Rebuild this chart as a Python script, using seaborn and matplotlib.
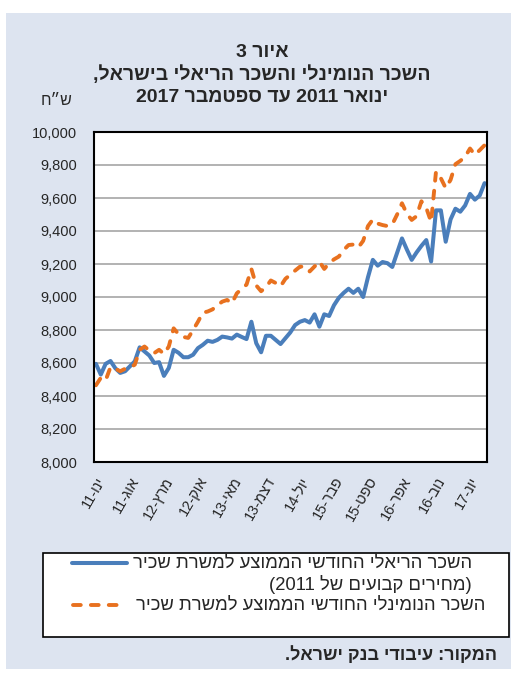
import re

import pandas as pd
import seaborn as sns
import matplotlib.pyplot as plt
from matplotlib.lines import Line2D
from matplotlib.patches import Rectangle

# monthly average wage per employee post, NIS, Jan 2011 - Sep 2017
REAL_WAGE = [
    8595, 8530, 8595, 8612, 8568, 8540, 8550, 8580, 8610, 8695,
    8670, 8645, 8600, 8605, 8522, 8570, 8680, 8662, 8635, 8635,
    8650, 8690, 8710, 8735, 8728, 8740, 8760, 8755, 8748, 8772,
    8758, 8745, 8850, 8720, 8665, 8765, 8765, 8740, 8715, 8750,
    8785, 8830, 8850, 8860, 8845, 8895, 8820, 8895, 8885, 8950,
    8995, 9025, 9050, 9025, 9050, 9000, 9120, 9225, 9190, 9212,
    9205, 9182, 9268, 9355, 9288, 9225, 9270, 9310, 9345, 9215,
    9525, 9525, 9335, 9470, 9535, 9517, 9555, 9625, 9590, 9615,
    9690,
]
NOMINAL_WAGE = [
    8465, 8510, 8495, 8575, 8565, 8550, 8565, 8572, 8590, 8680,
    8700, 8675, 8660, 8680, 8655, 8700, 8810, 8775, 8758, 8752,
    8800, 8850, 8905, 8912, 8925, 8950, 8972, 8982, 8962, 9022,
    9050, 9075, 9170, 9070, 9035, 9060, 9100, 9085, 9065, 9110,
    9135, 9160, 9184, 9184, 9155, 9185, 9215, 9170, 9205, 9228,
    9245, 9285, 9315, 9318, 9300, 9340, 9430, 9470, 9445, 9436,
    9430, 9440, 9500, 9568, 9505, 9467, 9490, 9580, 9540, 9455,
    9760, 9720, 9660, 9710, 9805, 9825, 9850, 9900, 9862, 9890,
    9920,
]
TICK_LABELS = ["ינו-11", "אוג-11", "מרץ-12", "אוק-12", "מאי-13", "דצמ-13",
               "יול-14", "פבר-15", "ספט-15", "אפר-16", "נוב-16", "יונ-17"]
Y_TICKS = [8000, 8200, 8400, 8600, 8800, 9000, 9200, 9400, 9600, 9800, 10000]

TITLE = ["איור 3", "השכר הנומינלי והשכר הריאלי בישראל,", "ינואר 2011 עד ספטמבר 2017"]
UNIT = "ש״ח"
LEGEND_REAL = ["השכר הריאלי החודשי הממוצע למשרת שכיר", "(מחירים קבועים של 2011)"]
LEGEND_NOMINAL = "השכר הנומינלי החודשי הממוצע למשרת שכיר"
SOURCE = "המקור: עיבודי בנק ישראל."

BLUE = "#4A7EBB"
ORANGE = "#E8711F"
PANEL = "#DDE4F0"
W, H = 517, 675


def vis(s):
    """matplotlib has no bidi: put right-to-left text in visual order."""
    r = s[::-1]
    r = re.sub(r"[0-9][0-9,.]*[0-9]|[0-9]", lambda m: m.group(0)[::-1], r)
    return r.translate(str.maketrans("()", ")("))


def fx(x):
    return x / W


def fy(y):
    return 1 - y / H


df = pd.DataFrame({
    "month": range(len(REAL_WAGE)),
    "real": REAL_WAGE,
    "nominal": NOMINAL_WAGE,
})

sns.set_theme(style="white")
plt.rcParams["font.family"] = ["Liberation Sans", "DejaVu Sans"]

fig = plt.figure(figsize=(W / 100, H / 100), dpi=100)
fig.patch.set_facecolor("white")
fig.add_artist(Rectangle((fx(6), fy(669)), fx(505), (669 - 13) / H,
                         transform=fig.transFigure, facecolor=PANEL,
                         edgecolor="none", zorder=0))

ax = fig.add_axes([fx(93.5), fy(462), fx(393.5), 330 / H])
ax.set_facecolor("white")

sns.lineplot(data=df, x="month", y="real", ax=ax, color=BLUE, linewidth=2.9)
sns.lineplot(data=df, x="month", y="nominal", ax=ax, color=ORANGE, linewidth=2.8)
nominal_line = ax.get_lines()[-1]
nominal_line.set_dashes((2.0, 2.6))
nominal_line.set_dash_capstyle("round")

n = len(df)
ax.set_xlim(-0.5, n - 0.5)
ax.set_ylim(Y_TICKS[0], Y_TICKS[-1])
ax.set_yticks(Y_TICKS)
ax.set_yticklabels([f"{v:,}" for v in Y_TICKS], fontsize=10.5)
ax.yaxis.grid(True, color="#A6A6A6", linewidth=1.2)
ax.set_axisbelow(True)

label_pos = list(range(0, n, 7))[:len(TICK_LABELS)]
ax.set_xticks(label_pos)
ax.set_xticklabels([vis(t) for t in TICK_LABELS], rotation=60, ha="right",
                   va="top", rotation_mode="anchor", fontsize=10.5)
ax.set_xticks([p - 0.5 for p in range(7, n, 7)], minor=True)
ax.tick_params(axis="x", which="major", length=0, pad=9)
ax.tick_params(axis="x", which="minor", direction="in", length=5, width=1.2, color="black")
ax.tick_params(axis="y", direction="in", length=5, width=1.2, color="black", pad=12)
ax.set_xlabel("")
ax.set_ylabel("")
for sp in ax.spines.values():
    sp.set_color("black")
    sp.set_linewidth(1.5)

# title and unit
for text, base in zip(TITLE, [57, 80, 102]):
    fig.text(fx(262), fy(base), vis(text), ha="center", va="baseline",
             fontsize=14, fontweight="bold")
fig.text(fx(57), fy(105), vis(UNIT), ha="center", va="baseline", fontsize=11.5)

# legend box
fig.add_artist(Rectangle((fx(43), fy(637)), fx(466), (637 - 553) / H,
                         transform=fig.transFigure, facecolor="white",
                         edgecolor="black", linewidth=1.2, zorder=1))
fig.add_artist(Line2D([fx(72), fx(127)], [fy(563), fy(563)], transform=fig.transFigure,
                      color=BLUE, linewidth=2.9, solid_capstyle="round", zorder=2))
leg_nom = Line2D([fx(73), fx(120)], [fy(605), fy(605)], transform=fig.transFigure,
                 color=ORANGE, linewidth=2.8, zorder=2)
leg_nom.set_dashes((2.0, 2.6))
leg_nom.set_dash_capstyle("round")
fig.add_artist(leg_nom)
fig.text(fx(472), fy(563), vis(LEGEND_REAL[0]), ha="right", va="center", fontsize=13.3, zorder=3)
fig.text(fx(472), fy(584), vis(LEGEND_REAL[1]), ha="right", va="center", fontsize=13.3, zorder=3)
fig.text(fx(485), fy(605), vis(LEGEND_NOMINAL), ha="right", va="center", fontsize=13.3, zorder=3)

fig.text(fx(497), fy(655), vis(SOURCE), ha="right", va="center", fontsize=13,
         fontweight="bold")

fig.savefig("out.png", dpi=100)
